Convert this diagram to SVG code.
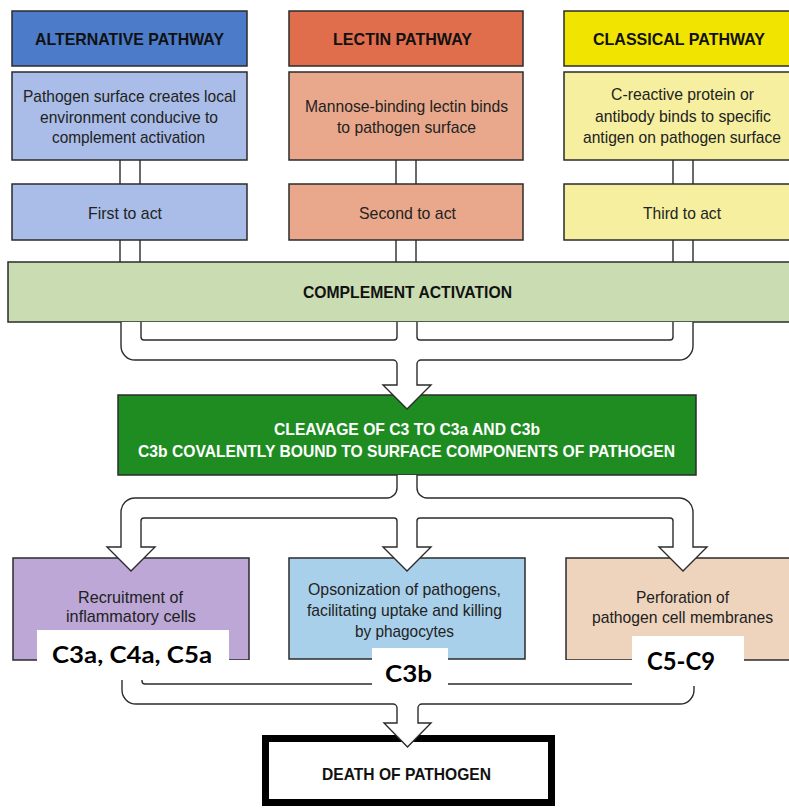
<svg xmlns="http://www.w3.org/2000/svg" width="789" height="809" viewBox="0 0 789 809">
  <style>
    .box { stroke: #2b2b2b; stroke-width: 1.5; }
    .hd { font-family: "Liberation Sans", Arial, sans-serif; font-weight: 700; font-size: 17px; fill: #111; text-anchor: middle; }
    .tx { font-family: "Liberation Sans", Arial, sans-serif; font-size: 17px; fill: #222; text-anchor: middle; }
    .wt { fill: #fff; }
    .pipe { fill: none; stroke: #2b2b2b; stroke-width: 1.4; }
    .arrow { fill: #fff; stroke: #2b2b2b; stroke-width: 1.4; stroke-linejoin: miter; }
    .lbl { font-family: Lato, "Open Sans", "Liberation Sans", sans-serif; font-weight: 700; fill: #000; text-anchor: middle; }
  </style>
  <rect width="789" height="809" fill="#fff"/>

  <!-- pathway columns -->
  <g id="alternative-pathway">
    <rect class="box" x="12" y="11" width="235" height="55" fill="#4b7bc9"/>
    <text class="hd" x="129.5" y="45" textLength="189" lengthAdjust="spacingAndGlyphs">ALTERNATIVE PATHWAY</text>
  </g>
  <g id="alternative-trigger">
    <rect class="box" x="12" y="72" width="235" height="88" fill="#a9bde8"/>
    <text class="tx" x="129.5" y="102" textLength="213" lengthAdjust="spacingAndGlyphs">Pathogen surface creates local</text>
    <text class="tx" x="129" y="123" textLength="178" lengthAdjust="spacingAndGlyphs">environment conducive to</text>
    <text class="tx" x="128.5" y="143" textLength="153" lengthAdjust="spacingAndGlyphs">complement activation</text>
  </g>
  <g id="alternative-order">
    <rect class="box" x="12" y="184" width="235" height="56" fill="#a9bde8"/>
    <text class="tx" x="125" y="219" textLength="74" lengthAdjust="spacingAndGlyphs">First to act</text>
  </g>

  <g id="lectin-pathway">
    <rect class="box" x="289" y="11" width="234" height="55" fill="#e06d4b"/>
    <text class="hd" x="402.5" y="45" textLength="139" lengthAdjust="spacingAndGlyphs">LECTIN PATHWAY</text>
  </g>
  <g id="lectin-trigger">
    <rect class="box" x="289" y="72" width="234" height="88" fill="#e9a88b"/>
    <text class="tx" x="406.5" y="112" textLength="203" lengthAdjust="spacingAndGlyphs">Mannose-binding lectin binds</text>
    <text class="tx" x="406.5" y="133" textLength="139" lengthAdjust="spacingAndGlyphs">to pathogen surface</text>
  </g>
  <g id="lectin-order">
    <rect class="box" x="289" y="184" width="234" height="56" fill="#e9a88b"/>
    <text class="tx" x="407.5" y="219" textLength="97" lengthAdjust="spacingAndGlyphs">Second to act</text>
  </g>

  <!-- the right-hand column runs past the page edge -->
  <g id="classical-pathway">
    <rect class="box" x="564" y="11" width="226.5" height="55" fill="#f1e400"/>
    <text class="hd" x="679" y="45" textLength="172" lengthAdjust="spacingAndGlyphs">CLASSICAL PATHWAY</text>
  </g>
  <g id="classical-trigger">
    <rect class="box" x="564" y="72" width="226.5" height="88" fill="#f5ef9f"/>
    <text class="tx" x="682.5" y="100" textLength="143" lengthAdjust="spacingAndGlyphs">C-reactive protein or</text>
    <text class="tx" x="683" y="122" textLength="176" lengthAdjust="spacingAndGlyphs">antibody binds to specific</text>
    <text class="tx" x="682" y="143" font-size="16" textLength="198" lengthAdjust="spacingAndGlyphs">antigen on pathogen surface</text>
  </g>
  <g id="classical-order">
    <rect class="box" x="564" y="184" width="226.5" height="56" fill="#f5ef9f"/>
    <text class="tx" x="682" y="219" textLength="78" lengthAdjust="spacingAndGlyphs">Third to act</text>
  </g>

  <g id="complement-activation">
    <rect class="box" x="8" y="262" width="782.5" height="60" fill="#c9dcb2"/>
    <text class="hd" x="407.5" y="298" textLength="209" lengthAdjust="spacingAndGlyphs">COMPLEMENT ACTIVATION</text>
  </g>

  <g id="c3-cleavage">
    <rect class="box" x="118" y="395" width="578" height="80" fill="#1f8c22"/>
    <text class="hd wt" x="407" y="435" textLength="266" lengthAdjust="spacingAndGlyphs">CLEAVAGE OF C3 TO C3a AND C3b</text>
    <text class="hd wt" x="406.5" y="457" textLength="537" lengthAdjust="spacingAndGlyphs">C3b COVALENTLY BOUND TO SURFACE COMPONENTS OF PATHOGEN</text>
  </g>

  <g id="recruitment">
    <rect class="box" x="13" y="558" width="236" height="102" fill="#bca7d6"/>
    <text class="tx" x="130.5" y="603" textLength="105" lengthAdjust="spacingAndGlyphs">Recruitment of</text>
    <text class="tx" x="131" y="622" textLength="130" lengthAdjust="spacingAndGlyphs">inflammatory cells</text>
  </g>
  <g id="opsonization">
    <rect class="box" x="289" y="558" width="236" height="101" fill="#a9d0ea"/>
    <text class="tx" x="404.5" y="595" textLength="193" lengthAdjust="spacingAndGlyphs">Opsonization of pathogens,</text>
    <text class="tx" x="404.5" y="616" textLength="195" lengthAdjust="spacingAndGlyphs">facilitating uptake and killing</text>
    <text class="tx" x="404.5" y="637" textLength="99" lengthAdjust="spacingAndGlyphs">by phagocytes</text>
  </g>
  <g id="perforation">
    <rect class="box" x="566" y="558" width="224.5" height="102" fill="#eed4bd"/>
    <text class="tx" x="682.5" y="603" textLength="93" lengthAdjust="spacingAndGlyphs">Perforation of</text>
    <text class="tx" x="682.5" y="623" textLength="181" lengthAdjust="spacingAndGlyphs">pathogen cell membranes</text>
  </g>

  <g id="death-of-pathogen">
    <rect x="265.5" y="738.5" width="286" height="64" fill="#fff" stroke="#000" stroke-width="7"/>
    <text class="hd" x="406.5" y="780" textLength="169" lengthAdjust="spacingAndGlyphs">DEATH OF PATHOGEN</text>
  </g>

  <!-- connectors -->
  <g id="connectors">
    <!-- short double-line pipes inside each column -->
    <path class="pipe" d="M120,160V184M140,160V184M120,240V262M140,240V262"/>
    <path class="pipe" d="M396,160V184M416,160V184M396,240V262M416,240V262"/>
    <path class="pipe" d="M673,160V184M693,160V184M673,240V262M693,240V262"/>

    <!-- three pipes merge into one arrow -->
    <path class="arrow" d="M121,322V346A14,14 0 0 0 135,360H393A4,4 0 0 1 397,364V385H383L407,409L431,385H417V364A4,4 0 0 1 421,360H679A14,14 0 0 0 693,346V322"/>
    <path class="pipe" d="M141,322V337A3,3 0 0 0 144,340H394A3,3 0 0 0 397,337V322M417,322V337A3,3 0 0 0 420,340H670A3,3 0 0 0 673,337V322"/>

    <!-- one pipe splits into three arrows -->
    <path class="arrow" d="M397,475V488A10,10 0 0 1 387,498H135A14,14 0 0 0 121,512V547H107L131,571L155,547H141V521A3,3 0 0 1 144,518H394A3,3 0 0 1 397,521V547H383L407,571L431,547H417V521A3,3 0 0 1 420,518H670A3,3 0 0 1 673,521V547H659L683,571L707,547H693V512A14,14 0 0 0 679,498H427A10,10 0 0 1 417,488V475"/>

    <!-- three pipes merge into the final arrow -->
    <path class="arrow" d="M122,660V690A14,14 0 0 0 136,704H393A4,4 0 0 1 397,708V723H384L407.5,747L431,723H418V708A4,4 0 0 1 422,704H680A14,14 0 0 0 694,690V660"/>
    <path class="pipe" d="M142,660V681A3,3 0 0 0 145,684H394A3,3 0 0 0 397,681V660M418,660V681A3,3 0 0 0 421,684H671A3,3 0 0 0 674,681V660"/>
  </g>

  <!-- component labels -->
  <g id="label-c3a-c4a-c5a">
    <rect x="37" y="630" width="192" height="50" fill="#fff"/>
    <text class="lbl" x="132" y="663" font-size="23" textLength="160" lengthAdjust="spacingAndGlyphs">C3a, C4a, C5a</text>
  </g>
  <g id="label-c3b">
    <rect x="372" y="648" width="76" height="44" fill="#fff"/>
    <text class="lbl" x="408.5" y="682" font-size="23" textLength="47" lengthAdjust="spacingAndGlyphs">C3b</text>
  </g>
  <g id="label-c5-c9">
    <rect x="632" y="636" width="112" height="50" fill="#fff"/>
    <text class="lbl" x="681" y="670" font-size="24" textLength="68" lengthAdjust="spacingAndGlyphs">C5-C9</text>
  </g>
</svg>
